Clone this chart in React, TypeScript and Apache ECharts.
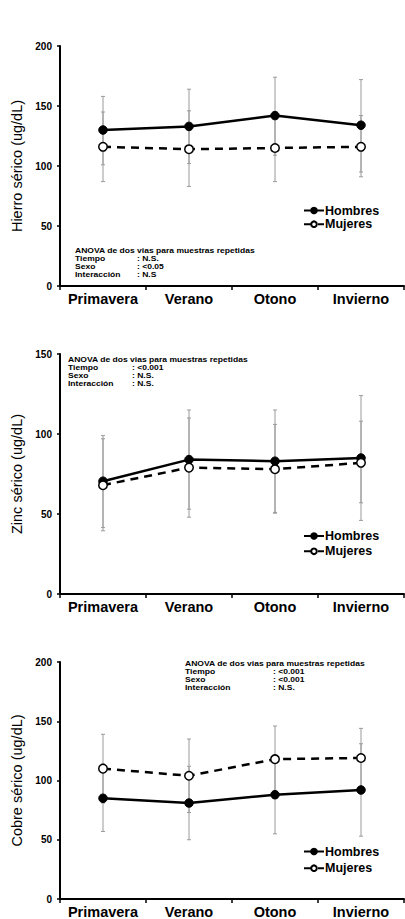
import React, { useEffect, useRef } from "react";
import * as echarts from "echarts";

const categories = ["Primavera", "Verano", "Otono", "Invierno"];

// Hierro sérico
const hierroHombres = [130, 133, 142, 134];
const hierroMujeres = [116, 114, 115, 116];
const hierroHombresLow = [101, 102, 109, 95];
const hierroHombresHigh = [158, 164, 174, 172];
const hierroMujeresLow = [87, 83, 87, 91];
const hierroMujeresHigh = [145, 146, 144, 142];

// Zinc sérico
const zincHombres = [70.5, 84, 83, 85];
const zincMujeres = [68, 79, 78, 82];
const zincHombresLow = [41.5, 53, 50.5, 46];
const zincHombresHigh = [99, 115, 115, 124];
const zincMujeresLow = [39.5, 48, 51, 57];
const zincMujeresHigh = [97, 110, 106, 108];

// Cobre sérico
const cobreHombres = [85, 81, 88, 92];
const cobreMujeres = [110, 104, 118, 119];
const cobreHombresLow = [57, 50, 55, 53];
const cobreHombresHigh = [114, 112, 121, 131];
const cobreMujeresLow = [81, 73, 90, 94];
const cobreMujeresHigh = [139, 135, 146, 144];

const yTitles = ["Hierro sérico (ug/dL)", "Zinc sérico (ug/dL)", "Cobre sérico (ug/dL)"];
const yMax = [200, 150, 200];

const anovaTitle = "ANOVA de dos vias para muestras repetidas";
const anovaLabels = ["Tiempo", "Sexo", "Interacción"];
const anovaValues = [
  [": N.S.", ": <0.05", ": N.S"],
  [": <0.001", ": N.S.", ": N.S."],
  [": <0.001", ": <0.001", ": N.S."],
];

const FONT = "'Liberation Sans', Arial, sans-serif";

export default function App() {
  const ref = useRef<HTMLDivElement>(null);

  useEffect(() => {
    if (!ref.current) return;
    const chart = echarts.init(ref.current, undefined, { renderer: "svg" });

    const gridTops = [46, 354, 662];
    const panels = [
      { h: hierroHombres, m: hierroMujeres, hl: hierroHombresLow, hh: hierroHombresHigh, ml: hierroMujeresLow, mh: hierroMujeresHigh },
      { h: zincHombres, m: zincMujeres, hl: zincHombresLow, hh: zincHombresHigh, ml: zincMujeresLow, mh: zincMujeresHigh },
      { h: cobreHombres, m: cobreMujeres, hl: cobreHombresLow, hh: cobreHombresHigh, ml: cobreMujeresLow, mh: cobreMujeresHigh },
    ];

    const errRender = (params: any, api: any) => {
      const x = api.value(0);
      const p1 = api.coord([x, api.value(1)]);
      const p2 = api.coord([x, api.value(2)]);
      const st = { stroke: "#9a9a9a", lineWidth: 1 };
      const c = 2;
      return {
        type: "group",
        children: [
          { type: "line", shape: { x1: p1[0], y1: p1[1], x2: p2[0], y2: p2[1] }, style: st },
          { type: "line", shape: { x1: p1[0] - c, y1: p1[1], x2: p1[0] + c, y2: p1[1] }, style: st },
          { type: "line", shape: { x1: p2[0] - c, y1: p2[1], x2: p2[0] + c, y2: p2[1] }, style: st },
        ],
      };
    };

    const series: any[] = [];
    panels.forEach((p, i) => {
      series.push({
        type: "custom",
        name: "eb_h_" + i,
        xAxisIndex: i,
        yAxisIndex: i,
        renderItem: errRender,
        z: 1,
        data: categories.map((_, k) => [k, p.hl[k], p.hh[k]]),
      });
      series.push({
        type: "custom",
        name: "eb_m_" + i,
        xAxisIndex: i,
        yAxisIndex: i,
        renderItem: errRender,
        z: 1,
        data: categories.map((_, k) => [k, p.ml[k], p.mh[k]]),
      });
      series.push({
        type: "line",
        name: "Hombres",
        xAxisIndex: i,
        yAxisIndex: i,
        data: p.h,
        z: 3,
        symbol: "circle",
        symbolSize: 8.5,
        lineStyle: { color: "#000", width: 2.5 },
        itemStyle: { color: "#000", borderColor: "#000", borderWidth: 1 },
      });
      series.push({
        type: "line",
        name: "Mujeres",
        xAxisIndex: i,
        yAxisIndex: i,
        data: p.m,
        z: 3,
        symbol: "circle",
        symbolSize: 8.5,
        lineStyle: { color: "#000", width: 2.5, type: [8, 6] },
        itemStyle: { color: "#fff", borderColor: "#000", borderWidth: 1.5 },
      });
    });

    const legendTops = [204, 529.5, 845];
    const legendGaps = [0.7, 2.3, 3.7];

    const annoPos = [
      { x: 75, y: [250.5, 258.9, 266.6, 274.6], vx: 137 },
      { x: 68, y: [359.5, 367.8, 375.7, 383.6], vx: 132 },
      { x: 185, y: [663.5, 671.9, 680, 688], vx: 273 },
    ];
    const graphics: any[] = [];
    annoPos.forEach((a, i) => {
      const ts = (text: string, x: number, y: number) => ({
        type: "text",
        x,
        y,
        scaleX: 1.22,
        style: { text, fill: "#000", font: `bold 7px ${FONT}`, textVerticalAlign: "middle", textAlign: "left" },
      });
      graphics.push(ts(anovaTitle, a.x, a.y[0]));
      anovaLabels.forEach((l, k) => {
        graphics.push(ts(l, a.x, a.y[k + 1]));
        graphics.push(ts(anovaValues[i][k], a.vx, a.y[k + 1]));
      });
    });

    chart.setOption({
      animation: false,
      backgroundColor: "#fff",
      grid: gridTops.map((t) => ({ left: 60, top: t, width: 344, height: 240 })),
      xAxis: gridTops.map((_, i) => ({
        type: "category",
        gridIndex: i,
        data: categories,
        boundaryGap: true,
        axisLine: { lineStyle: { color: "#000", width: 2 } },
        axisTick: { show: true, length: 4, lineStyle: { color: "#000", width: 1.5 } },
        axisLabel: { color: "#000", fontFamily: FONT, fontWeight: "bold", fontSize: 14.5, margin: 5, interval: 0 },
        splitLine: { show: false },
      })),
      yAxis: gridTops.map((_, i) => ({
        type: "value",
        gridIndex: i,
        min: 0,
        max: yMax[i],
        interval: 50,
        name: yTitles[i],
        nameLocation: "middle",
        nameGap: 33,
        nameTextStyle: { color: "#000", fontFamily: FONT, fontSize: 14.5 },
        axisLine: { show: true, lineStyle: { color: "#000", width: 2 } },
        axisTick: { show: true, length: 3, lineStyle: { color: "#000", width: 1.5 } },
        axisLabel: { color: "#000", fontFamily: FONT, fontWeight: "bold", fontSize: 10, margin: 8 },
        splitLine: { show: false },
      })),
      legend: legendTops.map((t, i) => ({
        left: 303,
        top: t,
        orient: "vertical",
        padding: 0,
        itemWidth: 20,
        itemHeight: 7,
        itemGap: legendGaps[i],
        data: ["Hombres", "Mujeres"],
        textStyle: { color: "#000", fontFamily: FONT, fontWeight: "bold", fontSize: 12.5, lineHeight: 12, padding: [0, 0, 0, -4] },
        selectedMode: false,
      })),
      series,
      graphic: graphics,
    });

    return () => chart.dispose();
  }, []);

  return <div ref={ref} style={{ position: "absolute", left: 0, top: 0, width: 405, height: 919 }} />;
}
